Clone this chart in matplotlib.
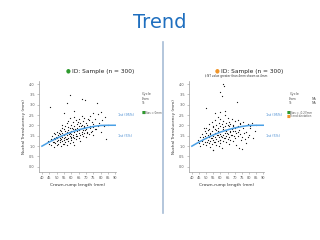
import matplotlib
matplotlib.use('Agg')
import matplotlib.pyplot as plt

W, H = 320, 240

# trend line (same curve on both panels)
trend_x = [40, 45, 50, 55, 60, 65, 70, 75, 80, 85, 90]
trend_y = [1.00, 1.20, 1.38, 1.54, 1.68, 1.79, 1.88, 1.95, 2.00, 2.01, 2.01]

# left panel points
left_pts = [
    (44, 1.25), (45, 1.10), (46, 1.35), (46, 1.05), (47, 1.30), (47, 1.50), (48, 1.20), (48, 1.40), (48, 0.95), (49, 1.60),
    (49, 1.15), (49, 1.35), (50, 1.45), (50, 1.25), (50, 1.05), (50, 1.70), (51, 1.30), (51, 1.55), (51, 1.10), (52, 1.40),
    (52, 1.80), (52, 1.20), (52, 1.60), (53, 1.35), (53, 1.00), (53, 1.75), (53, 1.50), (54, 1.25), (54, 1.65), (54, 1.45),
    (54, 2.00), (55, 1.30), (55, 1.55), (55, 1.10), (55, 1.85), (55, 1.40), (56, 1.60), (56, 1.20), (56, 1.95), (56, 1.45),
    (57, 1.70), (57, 1.35), (57, 1.05), (57, 2.10), (57, 1.55), (58, 1.80), (58, 1.40), (58, 1.25), (58, 2.20), (59, 1.65),
    (59, 1.50), (59, 1.90), (59, 1.15), (59, 2.35), (60, 1.75), (60, 1.45), (60, 2.00), (60, 1.30), (60, 1.60), (61, 1.85),
    (61, 1.55), (61, 2.15), (61, 1.20), (62, 1.70), (62, 1.95), (62, 1.40), (62, 2.40), (62, 1.05), (63, 1.80), (63, 1.60),
    (63, 2.25), (63, 1.35), (64, 1.90), (64, 1.50), (64, 2.05), (64, 1.75), (65, 1.65), (65, 2.30), (65, 1.40), (65, 1.95),
    (66, 1.85), (66, 1.55), (66, 2.10), (66, 1.25), (67, 2.00), (67, 1.70), (67, 2.45), (68, 1.80), (68, 1.50), (68, 2.20),
    (69, 1.95), (69, 1.65), (69, 2.35), (70, 1.85), (70, 2.10), (70, 1.45), (71, 2.00), (71, 1.70), (72, 2.25), (72, 1.60),
    (73, 1.90), (73, 2.45), (74, 1.75), (74, 2.15), (75, 2.05), (75, 1.55), (76, 2.30), (77, 1.85), (78, 2.55), (79, 2.10),
    (80, 1.70), (81, 2.25), (82, 1.95), (84, 1.35), (85, 2.00), (83, 2.40),
    (45.4, 2.88), (58.9, 3.47), (57.4, 3.07), (67.2, 3.26), (69.7, 3.23), (77.6, 3.10), (55, 2.60), (75, 2.60), (62, 2.70), (80, 2.65),
    (50.5, 1.38), (51.5, 1.62), (52.5, 1.28), (53.5, 1.88), (54.5, 1.12), (55.5, 1.72), (56.5, 1.33), (57.5, 1.92), (58.5, 1.58), (59.5, 1.38),
    (60.5, 1.88), (61.5, 1.42), (62.5, 1.82), (63.5, 1.48), (64.5, 2.18), (65.5, 1.78), (66.5, 1.98), (67.5, 1.58), (68.5, 1.92), (69.5, 1.78),
    (47.5, 1.18), (48.5, 1.62), (49.5, 1.42), (70.5, 1.62), (71.5, 2.32), (72.5, 1.98), (73.5, 1.68), (74.5, 1.92), (76.5, 1.82), (78.5, 1.98),
]

# right panel points (NT > 4 drawn at 4)
right_pts = [
    (44, 1.30), (45, 1.15), (46, 1.45), (46, 1.00), (47, 1.25), (47, 1.60), (48, 1.35), (48, 1.10), (49, 1.50), (49, 1.75),
    (49, 1.20), (50, 1.40), (50, 1.05), (50, 1.65), (50, 1.90), (51, 1.30), (51, 1.55), (52, 1.15), (52, 1.45), (52, 1.85),
    (52, 2.05), (53, 1.25), (53, 1.60), (53, 0.95), (54, 1.40), (54, 1.75), (54, 1.10), (54, 2.15), (55, 1.50), (55, 1.30),
    (55, 1.95), (55, 0.82), (56, 1.65), (56, 1.20), (56, 2.25), (56, 1.45), (57, 1.35), (57, 1.80), (57, 1.05), (57, 2.00),
    (58, 1.55), (58, 1.25), (58, 1.90), (58, 2.40), (59, 1.45), (59, 1.70), (59, 1.00), (59, 2.10), (60, 1.60), (60, 1.30),
    (60, 1.95), (60, 2.30), (60, 1.15), (61, 1.75), (61, 1.45), (61, 2.05), (61, 0.90), (62, 1.55), (62, 1.85), (62, 1.25),
    (62, 2.20), (63, 1.65), (63, 1.40), (63, 2.50), (63, 1.95), (64, 1.75), (64, 1.20), (64, 2.10), (64, 1.50), (65, 1.85),
    (65, 1.35), (65, 2.35), (65, 1.60), (66, 1.95), (66, 1.45), (66, 2.15), (66, 1.10), (67, 1.70), (67, 2.05), (67, 1.30),
    (68, 1.85), (68, 2.30), (68, 1.55), (69, 2.00), (69, 1.25), (69, 1.75), (70, 1.90), (70, 1.40), (70, 2.20), (71, 1.65),
    (71, 1.05), (72, 1.95), (72, 1.50), (72, 2.25), (73, 1.80), (73, 0.90), (74, 1.60), (74, 2.05), (75, 1.45), (75, 0.85),
    (76, 1.90), (76, 2.15), (77, 1.35), (78, 1.70), (79, 2.05), (80, 1.55), (81, 1.90), (82, 2.10), (83, 1.40), (84, 1.75),
    (85, 2.00), (78, 1.15),
    (62.1, 4.00), (62.8, 3.90), (59.4, 3.60), (61, 3.44), (71.3, 3.15), (49.6, 2.86), (54.9, 0.82), (63, 2.70), (60, 2.65), (56, 2.60),
    (50.5, 1.22), (51.5, 1.78), (52.5, 1.62), (53.5, 1.38), (54.5, 1.92), (55.5, 1.18), (56.5, 1.82), (57.5, 1.52), (58.5, 1.72), (59.5, 1.32),
    (60.5, 1.48), (61.5, 1.92), (62.5, 1.38), (63.5, 1.78), (64.5, 1.62), (65.5, 2.02), (66.5, 1.72), (67.5, 1.52), (68.5, 1.98), (69.5, 1.48),
    (47.5, 1.42), (48.5, 1.88), (70.5, 1.72), (71.5, 1.92), (72.5, 1.68), (73.5, 2.12), (74.5, 1.32), (76.5, 1.62), (79.5, 1.42), (80.5, 1.98),
]

x_ticks = list(range(40, 95, 5))
y_ticks = [0.0, 0.5, 1.0, 1.5, 2.0, 2.5, 3.0, 3.5, 4.0]
pct_labels = ['1st (95%)', '1st (5%)']
pct_levels = [2.5, 1.5]

blue = '#3f86cf'
line_blue = '#4aa0e6'
gray = '#9a9a9a'
txt = '#555555'

fig = plt.figure(figsize=(W / 100, H / 100), dpi=100)
fig.patch.set_facecolor('white')


def fx(px):
    return px / W


def fy(py):
    return 1 - py / H


def panel(left_px, right_px, pts):
    ax = fig.add_axes([fx(left_px), fy(172), (right_px - left_px) / W, 91 / H])
    xs = [p[0] for p in pts]
    ys = [p[1] for p in pts]
    ax.scatter(xs, ys, s=0.8, color='#111111', linewidths=0)
    ax.plot(trend_x, trend_y, color=line_blue, lw=1.1)
    ax.set_xlim(38, 90.5)
    ax.set_ylim(-0.25, 4.15)
    ax.set_xticks(x_ticks)
    ax.set_yticks(y_ticks)
    ax.set_yticklabels(['%.1f' % v for v in y_ticks])
    for s in ['top', 'right']:
        ax.spines[s].set_visible(False)
    for s in ['left', 'bottom']:
        ax.spines[s].set_color(gray)
        ax.spines[s].set_linewidth(0.5)
    ax.tick_params(labelsize=2.5, length=1.5, width=0.4, color=gray, pad=1.5, labelcolor=txt)
    ax.set_xlabel('Crown-rump length (mm)', fontsize=3.2, labelpad=2, color='#333333')
    ax.set_ylabel('Nuchal Translucency (mm)', fontsize=3.0, labelpad=2, color='#333333')
    for lab, lev in zip(pct_labels, pct_levels):
        ax.text(92, lev, lab, fontsize=2.4, color=blue, va='center', ha='left', clip_on=False)
    ax.set_facecolor('none')
    return ax


panel(39, 116, left_pts)
panel(189, 264, right_pts)

# slide title and divider
fig.text(0.5, fy(22), 'Trend', fontsize=14, color='#1f6fbf', ha='center', va='center')
fig.add_artist(plt.Line2D([fx(163), fx(163)], [fy(42), fy(213)], color='#a7bcd6', lw=1.2))

# panel titles
fig.text(fx(68), fy(71), '\u25cf', fontsize=4, color='#2e9a2e', ha='center', va='center')
fig.text(fx(72), fy(71), 'ID: Sample (n = 300)', fontsize=4.2, color='#222222', va='center')
fig.text(fx(217), fy(71), '\u25cf', fontsize=4, color='#f0952a', ha='center', va='center')
fig.text(fx(221), fy(71), 'ID: Sample (n = 300)', fontsize=4.2, color='#222222', va='center')
fig.text(fx(236), fy(76.5), '\u2021 NT value greater than 4mm shown as 4mm', fontsize=2.0,
         color='#333333', ha='center', va='center')

# left legend
fig.text(fx(142), fy(94), 'Cycle', fontsize=2.6, color=txt, va='center')
fig.text(fx(142), fy(99.5), 'From', fontsize=2.3, color=txt, va='center')
fig.text(fx(142), fy(103.5), 'To', fontsize=2.3, color=txt, va='center')
fig.text(fx(142), fy(112.5), '\u25a0', fontsize=2.8, color='#2e9a2e', va='center')
fig.text(fx(145), fy(112.5), 'Bias = 0mm', fontsize=2.0, color=txt, va='center')

# right legend
fig.text(fx(290), fy(94), 'Cycle', fontsize=2.6, color=txt, va='center')
fig.text(fx(289), fy(99.5), 'From', fontsize=2.3, color=txt, va='center')
fig.text(fx(312), fy(99.5), 'NA', fontsize=2.3, color=txt, va='center')
fig.text(fx(289), fy(103.5), 'To', fontsize=2.3, color=txt, va='center')
fig.text(fx(312), fy(103.5), 'NA', fontsize=2.3, color=txt, va='center')
fig.text(fx(287), fy(112.5), '\u25a0', fontsize=2.8, color='#2e9a2e', va='center')
fig.text(fx(290), fy(112.5), 'Bias = -0.27mm', fontsize=2.0, color=txt, va='center')
fig.text(fx(287), fy(116.5), '\u25a0', fontsize=2.8, color='#f0952a', va='center')
fig.text(fx(290), fy(116.5), 'Trend deviation', fontsize=2.0, color=txt, va='center')

fig.savefig('out.png', dpi=100, facecolor='white')
